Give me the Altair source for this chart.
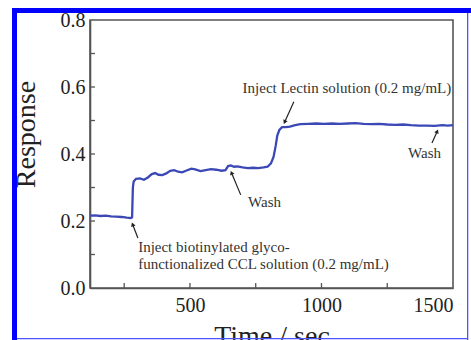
import math
import altair as alt
import pandas as pd

# ---------------- data ----------------
time_s = [120, 140, 160, 180, 200, 220, 240, 260, 275, 280, 283, 286, 295, 310, 325,
          340, 355, 368, 380, 395, 410, 425, 440, 455, 470, 485, 505, 520, 540, 560,
          580, 600, 620, 635, 645, 655, 668, 680, 700, 720, 740, 760, 780, 795, 808,
          818, 826, 832, 840, 850, 865, 880, 900, 920, 950, 980, 1010, 1040, 1070,
          1100, 1130, 1160, 1190, 1220, 1250, 1280, 1310, 1340, 1370, 1400, 1430,
          1460, 1480, 1500]
response = [0.216, 0.217, 0.215, 0.216, 0.214, 0.213, 0.212, 0.210, 0.209, 0.211,
            0.300, 0.318, 0.326, 0.327, 0.323, 0.330, 0.340, 0.343, 0.338, 0.337,
            0.342, 0.350, 0.352, 0.347, 0.345, 0.350, 0.356, 0.354, 0.349, 0.352,
            0.355, 0.353, 0.350, 0.352, 0.364, 0.366, 0.362, 0.363, 0.360, 0.358,
            0.359, 0.358, 0.360, 0.362, 0.372, 0.392, 0.425, 0.455, 0.472, 0.480,
            0.480, 0.482, 0.486, 0.489, 0.490, 0.491, 0.490, 0.491, 0.490, 0.491,
            0.492, 0.490, 0.489, 0.490, 0.488, 0.487, 0.488, 0.486, 0.485, 0.485,
            0.484, 0.486, 0.485, 0.486]

x_tick_labels = [500, 1000, 1500]
y_tick_labels = [0.0, 0.2, 0.4, 0.6, 0.8]
x_minor = [250, 500, 750, 1000, 1250]
y_minor = [0.1, 0.2, 0.3, 0.4, 0.5, 0.6, 0.7]

note_text = ["Inject biotinylated glyco-",
             "functionalized CCL solution (0.2 mg/mL)",
             "Wash",
             "Inject Lectin solution (0.2 mg/mL)",
             "Wash"]
note_t = [303, 303, 721, 700, 1329]
note_v = [0.107, 0.057, 0.242, 0.582, 0.388]

arrow_tail_t = [302, 693, 895, 1420]
arrow_tail_v = [0.149, 0.278, 0.556, 0.433]
arrow_head_t = [283, 659, 861, 1439]
arrow_head_v = [0.188, 0.342, 0.497, 0.466]

# ---------------- layout ----------------
W, H = 363, 268
T_MIN, T_MAX = 120, 1500
V_MIN, V_MAX = 0.0, 0.8
FONT = "Liberation Serif"

xs = alt.Scale(domain=[T_MIN, T_MAX], nice=False, zero=False)
ys = alt.Scale(domain=[V_MIN, V_MAX], nice=False, zero=False)


def px(t, v):
    return ((t - T_MIN) / (T_MAX - T_MIN) * W, H - (v - V_MIN) / (V_MAX - V_MIN) * H)


angles = []
for tt, tv, ht, hv in zip(arrow_tail_t, arrow_tail_v, arrow_head_t, arrow_head_v):
    x0, y0 = px(tt, tv)
    x1, y1 = px(ht, hv)
    a = math.degrees(math.atan2(x1 - x0, -(y1 - y0))) % 360
    angles.append(a)

curve = pd.DataFrame({"t": time_s, "v": response})
notes = pd.DataFrame({"t": note_t, "v": note_v, "txt": note_text})
arrows = pd.DataFrame({"t": arrow_tail_t, "v": arrow_tail_v,
                       "t2": arrow_head_t, "v2": arrow_head_v, "ang": angles})
xt = pd.DataFrame({"t": x_minor})
yt = pd.DataFrame({"v": y_minor})
one = pd.DataFrame({"k": [0]})

line = alt.Chart(curve).mark_line(color="#3b48b5", strokeWidth=2.3).encode(
    x=alt.X("t:Q", scale=xs,
            axis=alt.Axis(title="Time / sec", values=x_tick_labels, format="d",
                          titleY=56, titleBaseline="alphabetic", labelPadding=7)),
    y=alt.Y("v:Q", scale=ys,
            axis=alt.Axis(title="Response", values=y_tick_labels, format=".1f",
                          titleX=-56, titleY=114, titleBaseline="alphabetic",
                          titleAlign="center", labelPadding=5)),
)

xticks = alt.Chart(xt).mark_rule(color="#555", strokeWidth=1.3).encode(
    x=alt.X("t:Q", scale=xs), y=alt.value(H), y2=alt.value(H - 5))
yticks = alt.Chart(yt).mark_rule(color="#555", strokeWidth=1.3).encode(
    y=alt.Y("v:Q", scale=ys), x=alt.value(0), x2=alt.value(5))

texts = alt.Chart(notes).mark_text(align="left", baseline="alphabetic", font=FONT,
                                   fontSize=15, color="#333").encode(
    x=alt.X("t:Q", scale=xs), y=alt.Y("v:Q", scale=ys), text="txt:N")

arrow_lines = alt.Chart(arrows).mark_rule(color="#222", strokeWidth=1.2).encode(
    x=alt.X("t:Q", scale=xs), y=alt.Y("v:Q", scale=ys),
    x2="t2:Q", y2="v2:Q")
arrow_heads = alt.Chart(arrows).mark_point(shape="triangle", filled=True, size=22,
                                           color="#222", opacity=1).encode(
    x=alt.X("t2:Q", scale=xs), y=alt.Y("v2:Q", scale=ys),
    angle=alt.Angle("ang:Q", scale=None))

# frame decoration (blue border around the figure)
blue = "#0000ff"
left_bar = alt.Chart(one).mark_rect(color=blue).encode(
    x=alt.value(-78), x2=alt.value(-73), y=alt.value(-12), y2=alt.value(330))
top_bar = alt.Chart(one).mark_rect(color=blue).encode(
    x=alt.value(-78), x2=alt.value(381), y=alt.value(-12), y2=alt.value(-7))
right_white = alt.Chart(one).mark_rect(color="white").encode(
    x=alt.value(378), x2=alt.value(390), y=alt.value(-7), y2=alt.value(330))
right_line = alt.Chart(one).mark_rect(color="#4a55ff").encode(
    x=alt.value(377), x2=alt.value(378.3), y=alt.value(-7), y2=alt.value(330))
bottom_line = alt.Chart(one).mark_rect(color="#4a55ff").encode(
    x=alt.value(-73), x2=alt.value(378), y=alt.value(318), y2=alt.value(319.3))

chart = alt.layer(
    line, xticks, yticks, texts, arrow_lines, arrow_heads,
    left_bar, top_bar, right_white, right_line, bottom_line
).properties(
    width=W, height=H,
    background="white",
    autosize=alt.AutoSizeParams(type="none"),
    padding={"left": 90, "top": 20, "right": 18, "bottom": 52},
).configure_view(
    stroke="#555", strokeWidth=1.6
).configure_axis(
    grid=False, ticks=False, domainColor="#555", domainWidth=1.6,
    labelFont=FONT, labelFontSize=20, labelColor="#222",
    titleFont=FONT, titleFontSize=28, titleFontWeight="normal", titleColor="#222",
)

chart.save("out.html", embed_options={"renderer": "svg", "actions": False})
